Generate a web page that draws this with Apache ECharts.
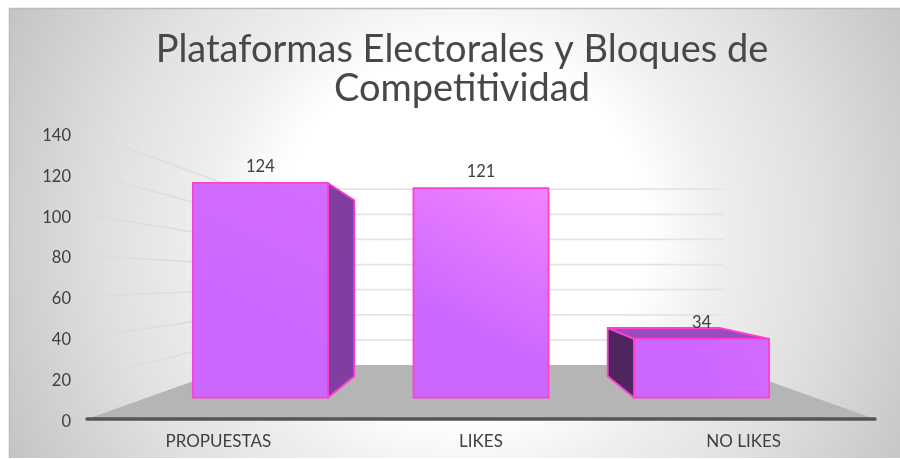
<!DOCTYPE html>
<html><head><meta charset="utf-8">
<style>html,body{margin:0;padding:0;background:#fff}#c{width:900px;height:459px}</style>
<script src="https://cdn.jsdelivr.net/npm/echarts@6/dist/echarts.min.js"></script>
</head><body><div id="c"></div>
<script>
const categories = ['PROPUESTAS', 'LIKES', 'NO LIKES'];
const barValues = [124, 121, 34];
const yTicks = [20, 40, 60, 80, 100, 120, 140];
const titleLines = ['Plataformas Electorales y Bloques de', 'Competitividad'];

// perspective of the 3D box
const VANISH_VALUE = 68.6, WALL_S = 0.615, BAR_FRONT_S = 0.848, BAR_FRONT_SX = 0.84, BAR_BACK_S = 0.695, BAR_FRAC = 0.612;
const HIGHLIGHT = ['#d46cff', '#f285ff', '#d46aff'];
const FONT = 'Lato';

function projector(params, api) {
  const cs = params.coordSys;
  const vx = cs.x + cs.width / 2, vy = api.coord([0, VANISH_VALUE])[1];
  return { cs, vx, vy, p: (x, y, s, sx) => [vx + (x - vx) * (sx || s), vy + (y - vy) * s] };
}
function renderFloor(params, api) {
  const { cs, p } = projector(params, api);
  const l = cs.x, r = cs.x + cs.width, b = api.coord([0, 0])[1];
  return { type: 'polygon', shape: { points: [[l, b], p(l, b, WALL_S), p(r, b, WALL_S), [r, b]] }, style: { fill: '#b5b5b5' } };
}
function renderGrid(params, api) {
  const { cs, p } = projector(params, api);
  const l = cs.x, r = cs.x + cs.width, y = api.coord([0, api.value(0)])[1];
  return { type: 'group', children: [
    { type: 'line', shape: { x1: l, y1: y, x2: p(l, y, WALL_S)[0], y2: p(l, y, WALL_S)[1] }, style: { stroke: '#dcdcdc', lineWidth: 1.5 } },
    { type: 'line', shape: { x1: p(l, y, WALL_S)[0], y1: p(l, y, WALL_S)[1], x2: p(r, y, WALL_S)[0], y2: p(r, y, WALL_S)[1] }, style: { stroke: '#e4e4e4', lineWidth: 1.8 } }
  ] };
}
function renderBar(params, api) {
  const { p, vx, vy } = projector(params, api);
  const i = api.value(0), v = api.value(1);
  const cx = api.coord([i, 0])[0], w = api.size([1, 0])[0] * BAR_FRAC;
  const l = cx - w / 2, r = cx + w / 2, b = api.coord([i, 0])[1], t = api.coord([i, v])[1];
  const F = (x, y) => p(x, y, BAR_FRONT_S, BAR_FRONT_SX);
  const B = (x, y) => p(x, y, BAR_BACK_S);
  const line = { stroke: '#ff3fd0', lineWidth: 1.8, lineJoin: 'round' };
  const face = (pts, fill) => ({ type: 'polygon', shape: { points: pts }, style: Object.assign({ fill }, line) });
  const children = [];
  if (F(l, t)[0] > B(l, t)[0]) children.push(face([F(l, t), B(l, t), B(l, b), F(l, b)], '#4f2560'));
  if (F(r, t)[0] < B(r, t)[0]) children.push(face([F(r, t), B(r, t), B(r, b), F(r, b)], '#7f3ea0'));
  if (F(l, t)[1] > vy) children.push(face([F(l, t), F(r, t), B(r, t), B(l, t)], '#9c4cc0'));
  children.push(face([F(l, t), F(r, t), F(r, b), F(l, b)], {
    type: 'linear', x: 1, y: 0, x2: 0.2, y2: 1,
    colorStops: [{ offset: 0, color: HIGHLIGHT[i] }, { offset: 0.7, color: '#cc66ff' }, { offset: 1, color: '#cc66ff' }]
  }));
  children.push({
    type: 'text',
    style: { x: (F(l, t)[0] + F(r, t)[0]) / 2, y: F(l, t)[1] - 16, text: String(v), fill: '#404040', font: '16.5px ' + FONT, textAlign: 'center', textVerticalAlign: 'middle' }
  });
  return { type: 'group', children };
}

const chart = echarts.init(document.getElementById('c'), null, { renderer: 'canvas' });
chart.setOption({
  animation: false,
  graphic: [{
    type: 'rect', z: -10, silent: true,
    shape: { x: 9, y: 8, width: 891, height: 450 },
    style: {
      fill: { type: 'radial', x: 462, y: 235, r: 510, global: true,
        colorStops: [{ offset: 0, color: '#ffffff' }, { offset: 0.36, color: '#ffffff' }, { offset: 0.5, color: '#efefef' }, { offset: 0.7, color: '#e0e0e0' }, { offset: 1, color: '#c3c3c3' }] }
    }
  }, {
    type: 'polyline', z: -9, silent: true,
    shape: { points: [[9.5, 458], [9.5, 8.5], [900, 8.5]] },
    style: { stroke: '#bcbcbc', lineWidth: 1.5, fill: null }
  }],
  title: {
    text: titleLines.join('\n'), left: 457, top: 25, textAlign: 'center',
    textStyle: { fontFamily: FONT, fontSize: 38, fontWeight: 'normal', color: '#484848', lineHeight: 39 }
  },
  grid: { left: 87, width: 788, top: 133, height: 286 },
  xAxis: {
    type: 'category', data: categories, z: 5,
    axisTick: { show: false },
    axisLine: { show: true, lineStyle: { color: '#555555', width: 3.5, cap: 'round' } },
    axisLabel: { color: '#404040', fontFamily: FONT, fontSize: 17, margin: 14 }
  },
  yAxis: {
    type: 'value', min: 0, max: 140, interval: 20,
    axisLine: { show: false }, axisTick: { show: false }, splitLine: { show: false },
    axisLabel: {
      margin: 16, formatter: '{t|{value}}',
      rich: { t: { color: '#404040', fontFamily: FONT, fontSize: 16.5, padding: [5, 0, 0, 0] } }
    }
  },
  series: [
    { type: 'custom', silent: true, z: 1, renderItem: renderFloor, data: [[0]], encode: { x: [], y: [] } },
    { type: 'custom', silent: true, z: 2, renderItem: renderGrid, data: yTicks.map(v => [v]), encode: { y: 0 } },
    { type: 'custom', z: 3, renderItem: renderBar, data: barValues.map((v, i) => [i, v]), encode: { x: 0, y: 1 } }
  ]
});
</script></body></html>
